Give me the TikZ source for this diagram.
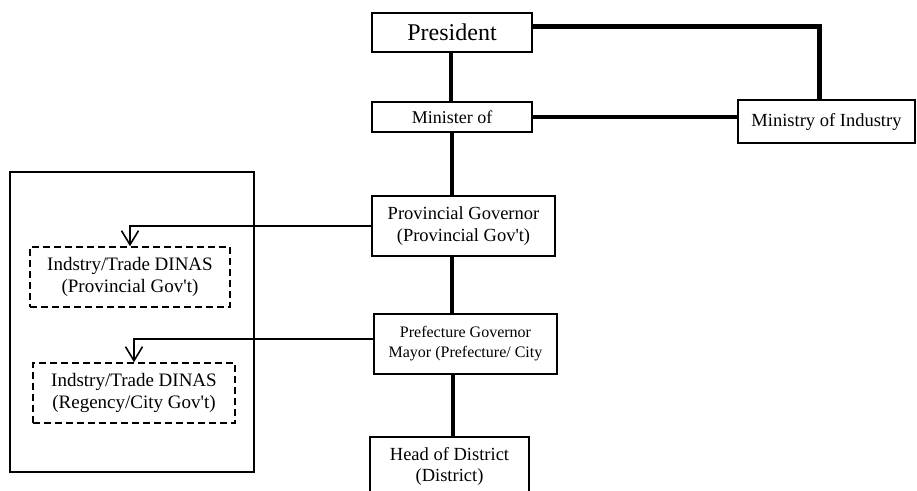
\documentclass[tikz,border=0pt]{standalone}
\usepackage{fontspec}
\setmainfont{Liberation Serif}
\usetikzlibrary{arrows.meta}
\begin{document}
\begin{tikzpicture}[x=1pt,y=-1pt,
  box/.style={draw, line width=1.5pt, inner sep=0pt, align=center,
    font=\fontsize{18.5}{21.5}\selectfont},
  dbox/.style={box, dash pattern=on 7pt off 4pt,
    font=\fontsize{19}{22}\selectfont},
  frame/.style={draw, line width=1.6pt, inner sep=0pt},
  heavy link/.style={line width=5pt},
  link/.style={line width=4pt},
  side link/.style={line width=3.5pt},
  feed/.style={line width=1.8pt,
    -{Straight Barb[length=14pt,width=17pt,line width=1.6pt]}}
]
\useasboundingbox (0,0) rectangle (917,490);
\clip (0,0) rectangle (917,490);

% chain of command
\node[box, minimum width=160pt, minimum height=39pt,
  font=\fontsize{24}{28}\selectfont] (pres) at (452,32.5) {President};
\node[box, minimum width=160pt, minimum height=30pt,
  font=\fontsize{18}{21}\selectfont] (min) at (452,117) {Minister of};
\node[box, minimum width=177pt, minimum height=43pt] (moi) at (826.5,121.5) {Ministry of Industry};
\node[box, minimum width=183pt, minimum height=60pt] (prov) at (463.5,226)
  {Provincial Governor\\(Provincial Gov\textquotesingle t)};
\node[box, minimum width=183pt, minimum height=60pt,
  font=\fontsize{16}{20}\selectfont] (pref) at (465.5,344)
  {Prefecture Governor\\Mayor (Prefecture/ City};
\node[box, minimum width=159pt, minimum height=59pt] (head) at (449.5,466.5)
  {Head of District\\(District)};

% regional offices
\node[frame, minimum width=244pt, minimum height=300pt] (region) at (132,322) {};
\node[dbox, minimum width=200pt, minimum height=60pt] (dinas1) at (130,277)
  {Indstry/Trade DINAS\\(Provincial Gov\textquotesingle t)};
\node[dbox, minimum width=202pt, minimum height=60pt] (dinas2) at (134,393)
  {Indstry/Trade DINAS\\(Regency/City Gov\textquotesingle t)};

% connectors
\coordinate (corner) at (819.5,26.5);
\draw[heavy link] ([yshift=6pt]pres.east) -- (corner) -- (corner |- moi.north);
\draw[link] ([xshift=-1.5pt]pres.south) -- ([xshift=-1.5pt]min.north);
\draw[side link] (min.east) -- (min.east -| moi.west);
\draw[link] (min.south) -- (min.south |- prov.north);
\draw[link] (min.south |- prov.south) -- (min.south |- pref.north);
\draw[link] ([xshift=1pt]min.south |- pref.south) -- ([xshift=1pt]min.south |- head.north);

\draw[feed] (prov.west) -| (dinas1.north);
\draw[feed] ([yshift=5pt]pref.west) -| (dinas2.north);
\end{tikzpicture}
\end{document}
